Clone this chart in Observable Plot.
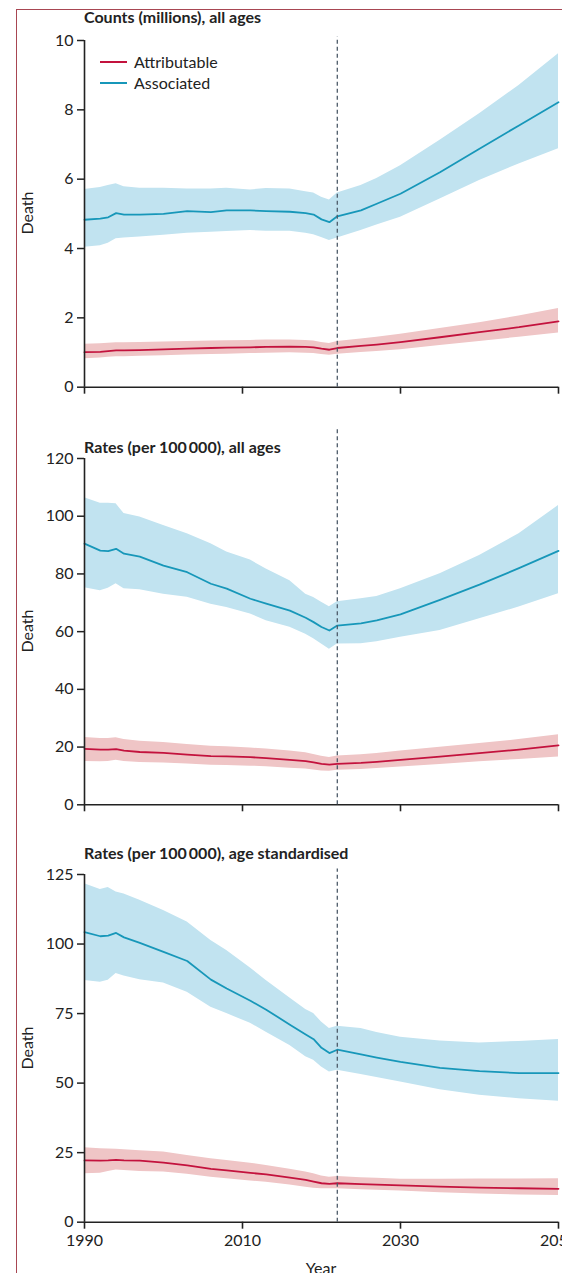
<!DOCTYPE html>
<html>
<head>
<meta charset="utf-8">
<script src="https://cdn.jsdelivr.net/npm/d3@7"></script>
<script src="https://cdn.jsdelivr.net/npm/@observablehq/plot@0.6"></script>
<style>
html,body{margin:0;padding:0;background:#fff;overflow:hidden;}
#root{position:relative;width:562px;height:1273px;overflow:hidden;font-family:Lato,"Open Sans",sans-serif;color:#222;background:#fff;}
.border{position:absolute;left:16px;top:9px;width:600px;height:1400px;border-left:1.5px solid #a84652;border-top:1.5px solid #a84652;box-sizing:border-box;}
.panel{position:absolute;left:0;}
.title{position:absolute;left:84px;height:20px;line-height:20px;font-weight:700;font-size:16px;white-space:nowrap;}
.ylab{position:absolute;left:27px;font-size:16px;line-height:20px;transform:translate(-50%,-50%) rotate(-90deg);white-space:nowrap;}
.xlab{position:absolute;left:321px;font-size:16px;line-height:20px;transform:translate(-50%,-50%);}
.leg{position:absolute;left:100px;height:20px;display:flex;align-items:center;font-size:16px;white-space:nowrap;}
.sw{width:27px;height:2px;margin-right:7px;}
</style>
</head>
<body>
<div id="root">
  <div class="border"></div>
</div>
<script>
// ---------------- data ----------------
const years = [1990,1992,1993,1994,1995,1997,2000,2003,2006,2008,2011,2013,2016,2018,2019,2020,2021,2022,2025,2027,2030,2035,2040,2045,2050];

// Counts (millions), all ages
const countsAssocMean = [4.83,4.86,4.90,5.02,4.98,4.98,5.00,5.08,5.05,5.10,5.10,5.08,5.06,5.02,4.98,4.84,4.76,4.93,5.10,5.29,5.58,6.20,6.88,7.55,8.22];
const countsAssocUp   = [5.70,5.76,5.82,5.87,5.78,5.74,5.74,5.72,5.72,5.74,5.69,5.73,5.72,5.64,5.60,5.48,5.40,5.60,5.82,6.02,6.39,7.12,7.89,8.70,9.62];
const countsAssocLo   = [4.04,4.08,4.15,4.28,4.30,4.33,4.38,4.44,4.47,4.49,4.52,4.50,4.50,4.44,4.40,4.32,4.23,4.30,4.52,4.68,4.90,5.43,5.96,6.44,6.88];
const countsAttrMean  = [1.01,1.02,1.04,1.06,1.06,1.07,1.09,1.11,1.13,1.14,1.15,1.16,1.17,1.16,1.15,1.11,1.08,1.13,1.19,1.23,1.30,1.44,1.59,1.73,1.90];
const countsAttrUp    = [1.24,1.25,1.27,1.28,1.28,1.29,1.30,1.32,1.33,1.34,1.35,1.36,1.36,1.35,1.33,1.29,1.26,1.32,1.39,1.44,1.53,1.69,1.86,2.05,2.27];
const countsAttrLo    = [0.82,0.84,0.86,0.88,0.88,0.89,0.91,0.93,0.94,0.95,0.97,0.98,0.99,0.98,0.97,0.94,0.92,0.95,1.00,1.03,1.08,1.20,1.32,1.44,1.56];

// Rates (per 100 000), all ages
const ratesAssocMean = [90.5,88.1,87.9,88.7,87.0,86.0,82.9,80.6,76.6,74.9,71.4,69.7,67.3,64.8,63.3,61.6,60.4,62.1,62.9,63.9,66.0,71.0,76.3,82.0,88.0];
const ratesAssocUp   = [106.4,104.5,104.5,104.3,100.9,99.7,96.8,93.9,90.5,87.6,84.8,81.7,77.6,73.0,71.8,70.2,68.6,70.4,71.4,72.2,74.9,80.1,86.4,93.9,103.7];
const ratesAssocLo   = [75.2,74.2,75.0,76.6,74.9,74.5,73.0,71.9,69.5,68.4,66.1,63.8,61.5,59.1,57.5,55.7,53.9,55.7,55.8,56.5,58.1,60.4,64.5,68.5,73.1];
const ratesAttrMean  = [19.4,19.1,19.1,19.3,18.8,18.3,18.0,17.4,16.9,16.8,16.5,16.2,15.6,15.1,14.7,14.2,13.9,14.2,14.5,14.9,15.6,16.7,17.9,19.1,20.6];
const ratesAttrUp    = [23.3,23.0,23.0,23.2,22.6,22.0,21.6,20.9,20.3,20.1,19.7,19.3,18.6,18.0,17.4,16.8,16.4,16.9,17.3,17.8,18.6,19.9,21.2,22.6,24.3];
const ratesAttrLo    = [15.0,14.9,15.0,15.4,15.0,14.7,14.5,14.1,13.7,13.6,13.4,13.2,12.7,12.4,12.1,11.7,11.6,12.0,12.2,12.6,13.1,14.0,14.9,15.7,16.6];

// Rates (per 100 000), age standardised
const asrAssocMean = [104.3,102.8,103.0,104.0,102.4,100.4,97.2,93.9,87.2,84.0,79.6,76.4,71.0,67.5,65.8,62.7,60.8,62.0,60.3,59.2,57.6,55.5,54.3,53.6,53.6];
const asrAssocUp   = [121.7,119.6,120.3,118.7,118.0,115.7,112.1,107.9,101.3,97.7,91.4,86.9,80.6,76.5,75.0,72.0,69.6,70.4,69.6,68.2,66.5,65.1,64.4,65.0,65.7];
const asrAssocLo   = [86.9,86.3,87.0,89.4,88.5,87.2,86.0,82.7,77.3,75.0,71.5,68.3,63.5,59.5,58.2,55.8,54.0,54.6,53.1,52.0,50.4,47.6,45.6,44.4,43.5];
const asrAttrMean  = [22.2,22.1,22.2,22.4,22.2,22.1,21.4,20.4,19.2,18.6,17.7,17.2,16.0,15.2,14.6,14.0,13.8,14.0,13.7,13.5,13.2,12.8,12.4,12.2,12.0];
const asrAttrUp    = [26.8,26.4,26.3,26.2,26.0,25.7,25.2,24.0,22.8,22.2,21.2,20.4,19.0,18.0,17.4,16.6,16.2,16.4,16.0,15.8,15.4,15.4,15.5,15.5,15.6];
const asrAttrLo    = [17.4,17.6,18.2,18.8,18.6,18.2,18.0,17.2,16.2,15.6,14.8,14.4,13.4,12.6,12.2,12.0,12.0,12.0,11.7,11.5,11.2,10.6,10.1,9.8,9.6];

const xTicks = [1990, 2010, 2030, 2050];
const forecastStart = 2022;
const seriesNames = ["Attributable", "Associated"];
const panelTitles = ["Counts (millions), all ages", "Rates (per 100\u2009000), all ages", "Rates (per 100\u2009000), age standardised"];
const yTicks1 = [0, 2, 4, 6, 8, 10];
const yTicks2 = [0, 20, 40, 60, 80, 100, 120];
const yTicks3 = [0, 25, 50, 75, 100, 125];
const yAxisLabel = "Death";
const xAxisLabel = "Year";

// ---------------- styles ----------------
const blue = "#1797b9", blueBand = "#c1e3f0";
const red = "#c3123d", redBand = "#efc5c6";
const ink = "#222";

const root = document.getElementById("root");

function rows(m, lo, hi) {
  return years.map((year, i) => ({year, mean: m[i], lo: lo[i], hi: hi[i]}));
}

function panel(cfg) {
  const assoc = rows(cfg.am, cfg.al, cfg.ah);
  const attr = rows(cfg.rm, cfg.rl, cfg.rh);
  const plot = Plot.plot({
    width: 562,
    height: cfg.height,
    marginLeft: 84,
    marginRight: 4,
    marginTop: cfg.mt,
    marginBottom: cfg.mb,
    style: {fontFamily: "Lato, 'Open Sans', sans-serif", fontSize: "16px", color: ink, background: "transparent", overflow: "visible"},
    x: {domain: [1990, 2050]},
    y: {domain: [0, cfg.ticks[cfg.ticks.length - 1]]},
    marks: [
      Plot.areaY(assoc, {x: "year", y1: "lo", y2: "hi", fill: blueBand}),
      Plot.areaY(attr, {x: "year", y1: "lo", y2: "hi", fill: redBand}),
      Plot.lineY(assoc, {x: "year", y: "mean", stroke: blue, strokeWidth: 1.8}),
      Plot.lineY(attr, {x: "year", y: "mean", stroke: red, strokeWidth: 1.8}),
      Plot.ruleX([1990], {stroke: ink, strokeWidth: 1.6}),
      Plot.ruleY([0], {stroke: ink, strokeWidth: 1.6}),
      Plot.axisY({ticks: cfg.ticks, tickSize: 7, tickPadding: 4, label: null, strokeWidth: 1.5}),
      Plot.axisX({ticks: xTicks, tickSize: 7, tickPadding: 5, label: null, strokeWidth: 1.6,
                  tickFormat: cfg.xLabels ? (d) => String(d) : () => ""}),
      Plot.ruleX([forecastStart], {y1: 0, y2: cfg.dashTop, stroke: "#4d5b69", strokeWidth: 1.3, strokeDasharray: "4,3"})
    ]
  });
  const wrap = document.createElement("div");
  wrap.className = "panel";
  wrap.style.top = cfg.top + "px";
  wrap.appendChild(plot);
  root.appendChild(wrap);

  const t = document.createElement("div");
  t.className = "title";
  t.style.top = (cfg.titleY - 10) + "px";
  t.textContent = cfg.title;
  root.appendChild(t);

  const yl = document.createElement("div");
  yl.className = "ylab";
  yl.style.top = cfg.ylabY + "px";
  yl.textContent = yAxisLabel;
  root.appendChild(yl);
}

panel({top: 0, height: 406.7, mt: 40, mb: 20, ticks: yTicks1, dashTop: 10.1, xLabels: false,
       am: countsAssocMean, al: countsAssocLo, ah: countsAssocUp,
       rm: countsAttrMean, rl: countsAttrLo, rh: countsAttrUp,
       title: panelTitles[0], titleY: 17, ylabY: 213});
panel({top: 400, height: 424.3, mt: 58, mb: 20, ticks: yTicks2, dashTop: 130, xLabels: false,
       am: ratesAssocMean, al: ratesAssocLo, ah: ratesAssocUp,
       rm: ratesAttrMean, rl: ratesAttrLo, rh: ratesAttrUp,
       title: panelTitles[1], titleY: 447, ylabY: 631});
panel({top: 820, height: 453.7, mt: 54, mb: 52, ticks: yTicks3, dashTop: 127, xLabels: true,
       am: asrAssocMean, al: asrAssocLo, ah: asrAssocUp,
       rm: asrAttrMean, rl: asrAttrLo, rh: asrAttrUp,
       title: panelTitles[2], titleY: 853, ylabY: 1048});

// legend
[[seriesNames[0], red, 61.7], [seriesNames[1], blue, 82.7]].forEach(([name, color, cy]) => {
  const d = document.createElement("div");
  d.className = "leg";
  d.style.top = (cy - 10) + "px";
  const sw = document.createElement("div");
  sw.className = "sw";
  sw.style.background = color;
  d.appendChild(sw);
  d.appendChild(document.createTextNode(name));
  root.appendChild(d);
});

const xl = document.createElement("div");
xl.className = "xlab";
xl.style.top = "1268px";
xl.textContent = xAxisLabel;
root.appendChild(xl);
</script>
</body>
</html>
